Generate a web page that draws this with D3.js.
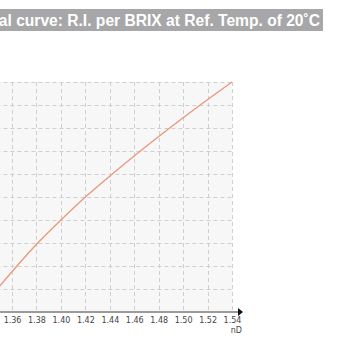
<!DOCTYPE html>
<html>
<head>
<meta charset="utf-8">
<script src="https://d3js.org/d3.v7.min.js"></script>
<style>
  html, body { margin: 0; padding: 0; background: #fff; }
  svg { display: block; }
</style>
</head>
<body>
<div id="chart"></div>
<script>
// Brix (%) on the hidden y axis, refractive index nD on x
const brix = [0, 10, 20, 30, 40, 50, 60, 70, 80, 90, 100];
const nD = [1.333, 1.348, 1.364, 1.381, 1.400, 1.420, 1.442, 1.465, 1.489, 1.514, 1.540];
const xTicks = [1.36, 1.38, 1.40, 1.42, 1.44, 1.46, 1.48, 1.50, 1.52, 1.54];
const yTicks = [0, 10, 20, 30, 40, 50, 60, 70, 80, 90, 100];
const title = 'Typical curve: R.I. per BRIX at Ref. Temp. of 20\u02DAC';
const xLabel = 'nD';

const width = 350, height = 350;

const svg = d3.select('#chart')
  .append('svg')
  .attr('width', width)
  .attr('height', height);

// title bar
svg.append('rect')
  .attr('x', -10).attr('y', 9)
  .attr('width', 333).attr('height', 22)
  .attr('fill', '#a7a7a9');

svg.append('text')
  .attr('x', 320)
  .attr('y', 26)
  .attr('text-anchor', 'end')
  .style('font-family', '"Liberation Sans", Arial, sans-serif')
  .style('font-weight', 'bold')
  .style('font-size', '15.6px')
  .style('fill', '#fff')
  .text(title);

// scales (left part of the chart is cropped off)
const x = d3.scaleLinear().domain([1.33, 1.54]).range([-24.6, 232]);
const y = d3.scaleLinear().domain([0, 100]).range([312, 82]);

// plot background
svg.append('rect')
  .attr('x', x(1.33)).attr('y', y(100))
  .attr('width', x(1.54) - x(1.33))
  .attr('height', y(0) - y(100))
  .attr('fill', '#f7f7f7');

// grid
const grid = svg.append('g')
  .attr('stroke', '#cfcfcf')
  .attr('stroke-width', 1)
  .attr('stroke-dasharray', '4,3');

grid.selectAll('line.h')
  .data(yTicks.filter(d => d > 0))
  .enter().append('line')
  .attr('class', 'h')
  .attr('x1', x(1.33)).attr('x2', x(1.54))
  .attr('y1', d => y(d) + 0.5).attr('y2', d => y(d) + 0.5);

grid.selectAll('line.v')
  .data(xTicks)
  .enter().append('line')
  .attr('class', 'v')
  .attr('x1', d => Math.round(x(d)) + 0.5).attr('x2', d => Math.round(x(d)) + 0.5)
  .attr('y1', y(100)).attr('y2', y(0));

// curve
const line = d3.line()
  .x((d, i) => x(nD[i]))
  .y(d => y(d))
  .curve(d3.curveMonotoneX);

svg.append('path')
  .datum(brix)
  .attr('d', line)
  .attr('fill', 'none')
  .attr('stroke', '#e8967c')
  .attr('stroke-width', 1.3);

// x axis
const xAxis = d3.axisBottom(x)
  .tickValues(xTicks)
  .tickFormat(d3.format('.2f'))
  .tickSize(0)
  .tickPadding(5);

const gx = svg.append('g')
  .attr('transform', `translate(0,${y(0)})`)
  .call(xAxis);

gx.select('.domain').remove();
gx.selectAll('text')
  .style('font-family', '"DejaVu Sans", Verdana, sans-serif')
  .style('font-size', '8px')
  .style('fill', '#444');

svg.append('line')
  .attr('x1', -30).attr('x2', 240)
  .attr('y1', y(0)).attr('y2', y(0))
  .attr('stroke', '#9a9a9a')
  .attr('stroke-width', 2);

svg.append('path')
  .attr('d', `M238,${y(0) - 4}L243,${y(0)}L238,${y(0) + 4}Z`)
  .attr('fill', '#111');

svg.append('text')
  .attr('x', 242)
  .attr('y', 333)
  .attr('text-anchor', 'end')
  .style('font-family', '"DejaVu Sans", Verdana, sans-serif')
  .style('font-size', '8px')
  .style('fill', '#444')
  .text(xLabel);
</script>
</body>
</html>
